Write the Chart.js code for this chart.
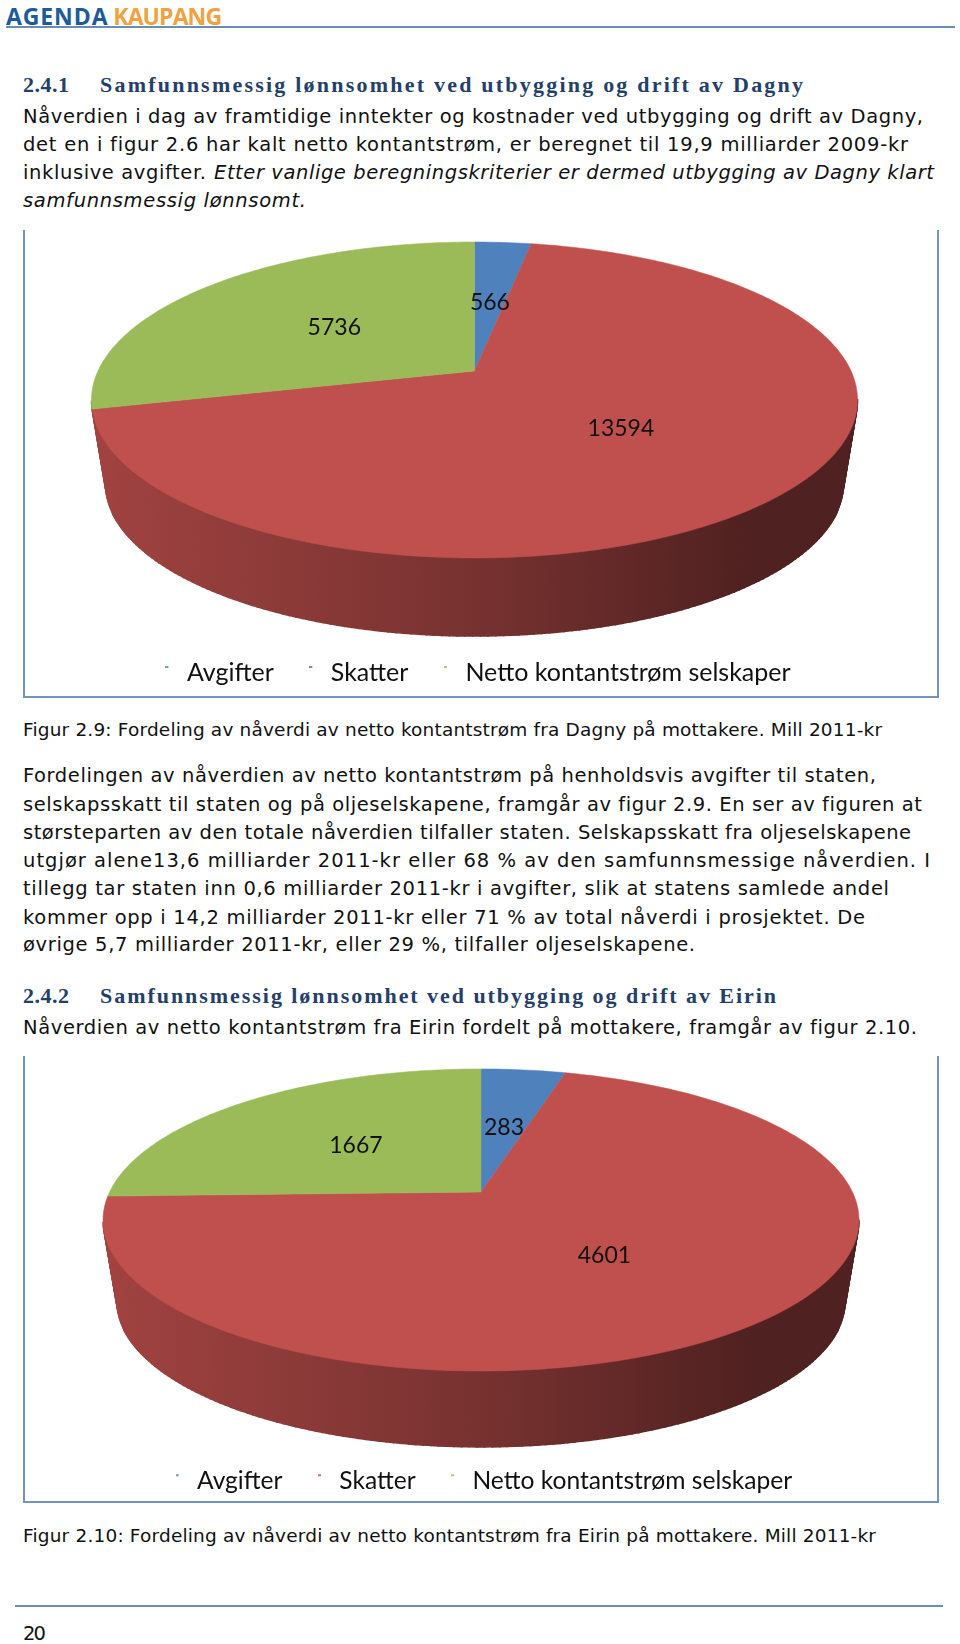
<!DOCTYPE html>
<html lang="no">
<head>
<meta charset="utf-8">
<title>Fordeling av nåverdi</title>
<script src="https://cdn.jsdelivr.net/npm/chart.js@4"></script>
<style>
html,body{margin:0;padding:0;background:#fff;width:960px;height:1644px;overflow:hidden}
.t{position:absolute;white-space:pre;line-height:24px;height:24px;color:#111;font-family:"DejaVu Sans",sans-serif;font-size:19.5px}
.h{font-family:"Liberation Serif",serif;font-weight:700;font-size:22px;color:#24406a}
.c{font-size:18.5px}
.i{font-style:italic}
.box{position:absolute;border-left:2px solid #6f94c4;border-right:2px solid #6f94c4;border-bottom:2px solid #6f94c4;box-sizing:border-box}
.rule{position:absolute;height:2px;background:#6a8db5}
canvas{position:absolute}
.logo{position:absolute;left:6px;top:4px;font:700 23px/24px "Open Sans",sans-serif;white-space:pre;color:#1d5c99;letter-spacing:.9px;word-spacing:-2px}
.logo span{color:#efa23f;letter-spacing:-.9px}
</style>
</head>
<body>
<div class="logo" id="logo">AGENDA <span>KAUPANG</span></div>
<div class="rule" style="left:6px;width:949px;top:26px"></div>
<div class="rule" style="left:15px;width:928px;top:1605px;height:1.5px"></div>
<div class="box" style="left:23px;top:230px;width:916px;height:468px"></div>
<div class="box" style="left:23px;top:1056px;width:916px;height:447px"></div>
<canvas id="c1" width="908" height="465" style="left:24px;top:230px"></canvas>
<canvas id="c2" width="920" height="447" style="left:24px;top:1056px"></canvas>
<script>
const categories = ["Avgifter", "Skatter", "Netto kontantstrøm selskaper"];
const sliceColors = ["#4f81bd", "#c0504d", "#9bbb59"];
const dagnyValues = [566, 13594, 5736];
const eirinValues = [283, 4601, 1667];

// [text, y centre, right end, class, left start]
const textLines = [
 ["2.4.1", 84.5, 69, "h"],
 ["Samfunnsmessig lønnsomhet ved utbygging og drift av Dagny", 84.5, 803, "h", 100],
 ["Nåverdien i dag av framtidige inntekter og kostnader ved utbygging og drift av Dagny,", 116.5, 923, ""],
 ["det en i figur 2.6 har kalt netto kontantstrøm, er beregnet til 19,9 milliarder 2009-kr", 144.5, 908, ""],
 ["inklusive avgifter.", 172.5, 206, ""],
 ["Etter vanlige beregningskriterier er dermed utbygging av Dagny klart", 172.5, 934, "i", 214],
 ["samfunnsmessig lønnsomt.", 200.5, 306, "i"],
 ["Figur 2.9: Fordeling av nåverdi av netto kontantstrøm fra Dagny på mottakere. Mill 2011-kr", 729.5, 882, "c"],
 ["Fordelingen av nåverdien av netto kontantstrøm på henholdsvis avgifter til staten,", 776, 876, ""],
 ["selskapsskatt til staten og på oljeselskapene, framgår av figur 2.9. En ser av figuren at", 804.5, 922, ""],
 ["størsteparten av den totale nåverdien tilfaller staten. Selskapsskatt fra oljeselskapene", 832.5, 911, ""],
 ["utgjør alene13,6 milliarder 2011-kr eller 68 % av den samfunnsmessige nåverdien. I", 861, 930, ""],
 ["tillegg tar staten inn 0,6 milliarder 2011-kr i avgifter, slik at statens samlede andel", 889, 889, ""],
 ["kommer opp i 14,2 milliarder 2011-kr eller 71 % av total nåverdi i prosjektet. De", 917.5, 865, ""],
 ["øvrige 5,7 milliarder 2011-kr, eller 29 %, tilfaller oljeselskapene.", 944.5, 695, ""],
 ["2.4.2", 995.5, 69, "h"],
 ["Samfunnsmessig lønnsomhet ved utbygging og drift av Eirin", 995.5, 776, "h", 100],
 ["Nåverdien av netto kontantstrøm fra Eirin fordelt på mottakere, framgår av figur 2.10.", 1028, 917, ""],
 ["Figur 2.10: Fordeling av nåverdi av netto kontantstrøm fra Eirin på mottakere. Mill 2011-kr", 1535.5, 876, "c"],
 ["20", 1634, 46, ""]
];

textLines.forEach(([txt, y, end, cls, start]) => {
  const d = document.createElement("div");
  d.className = "t " + cls;
  d.textContent = txt;
  const x0 = start || 23;
  d.style.left = x0 + "px";
  d.style.top = (y - 12) + "px";
  document.body.appendChild(d);
  const natural = d.getBoundingClientRect().width;
  d.style.letterSpacing = ((end - x0 - natural) / Math.max(txt.length - 1, 1)).toFixed(3) + "px";
});

function shade(hex, k) {
  const n = parseInt(hex.slice(1), 16);
  return "rgb(" + [(n >> 16) & 255, (n >> 8) & 255, n & 255].map(v => Math.round(v * k)).join(",") + ")";
}

// Tilted-disc projection of the arc elements that Chart.js laid out.
const pie3d = {
  id: "pie3d",
  beforeDatasetsDraw(chart, args, o) {
    const ctx = chart.ctx;
    const arcs = chart.getDatasetMeta(0).data;
    const colors = chart.data.datasets[0].backgroundColor;
    const v0 = arcs[0].getProps(["x", "y", "outerRadius"], true);
    const X = v0.x + o.shiftX, Y = v0.y + o.shiftY, R = v0.outerRadius;
    const A = o.sx * R, B = o.sy * R, P = o.persp;
    const pt = (ang, r, s, dy) => {
      const w = 1 - P * r * Math.sin(ang);
      return [X + s * A * r * Math.cos(ang) / w, Y + dy + s * B * r * Math.sin(ang) / w];
    };
    const left = X - A * 1.02, right = X + A * 1.02;
    [...arcs.keys()].reverse().forEach(i => {
      const p = arcs[i].getProps(["startAngle", "endAngle"], true);
      const g = ctx.createLinearGradient(left, 0, right, 0);
      g.addColorStop(0, shade(colors[i], .84));
      g.addColorStop(.5, shade(colors[i], .62));
      g.addColorStop(.86, shade(colors[i], .41));
      g.addColorStop(1, shade(colors[i], .41));
      ctx.fillStyle = g; ctx.strokeStyle = g; ctx.lineWidth = 1.5;
      const step = Math.PI / 180;
      for (let a = p.startAngle; a < p.endAngle; a += step) {
        const b = Math.min(a + step, p.endAngle);
        if (Math.sin(b) < P) continue;
        const q = [pt(a, 1, 1, 0), pt(b, 1, 1, 0), pt(b, 1, o.wallScale, o.wallDrop), pt(a, 1, o.wallScale, o.wallDrop)];
        ctx.beginPath();
        q.forEach((c, j) => j ? ctx.lineTo(c[0], c[1]) : ctx.moveTo(c[0], c[1]));
        ctx.closePath(); ctx.fill(); ctx.stroke();
      }
    });
    arcs.forEach((el, i) => {
      const p = el.getProps(["startAngle", "endAngle"], true);
      ctx.fillStyle = colors[i]; ctx.strokeStyle = colors[i]; ctx.lineWidth = .5;
      ctx.beginPath();
      ctx.moveTo(X, Y);
      const n = Math.ceil((p.endAngle - p.startAngle) / (Math.PI / 180));
      for (let k = 0; k <= n; k++) {
        const c = pt(p.startAngle + (p.endAngle - p.startAngle) * k / n, 1, 1, 0);
        ctx.lineTo(c[0], c[1]);
      }
      ctx.closePath(); ctx.fill(); ctx.stroke();
    });
    ctx.fillStyle = "#111";
    ctx.font = o.labelFont;
    ctx.textAlign = "center"; ctx.textBaseline = "middle";
    arcs.forEach((el, i) => {
      const p = el.getProps(["startAngle", "endAngle"], true);
      const c = pt((p.startAngle + p.endAngle) / 2, .5, 1, 0);
      ctx.fillText(String(chart.data.datasets[0].data[i]), c[0], c[1] + 1.5);
    });
    return false;
  }
};

function marker(color) {
  const m = document.createElement("canvas");
  m.width = 9; m.height = 21;
  const c = m.getContext("2d");
  c.fillStyle = color; c.globalAlpha = .8;
  c.fillRect(0, 4, 3, 2);
  return m;
}

function makePie(id, values, o, legendPad, fontSize) {
  return new Chart(document.getElementById(id), {
    type: "pie",
    data: { labels: categories, datasets: [{ data: values, backgroundColor: sliceColors, borderWidth: 0 }] },
    plugins: [pie3d],
    options: {
      responsive: false,
      animation: false,
      events: [],
      plugins: {
        tooltip: { enabled: false },
        pie3d: o,
        legend: {
          position: "bottom",
          labels: {
            usePointStyle: true,
            pointStyleWidth: 9,
            padding: legendPad,
            color: "#111",
            font: { family: "Lato, sans-serif", size: fontSize },
            generateLabels(chart) {
              return Chart.overrides.doughnut.plugins.legend.labels.generateLabels(chart)
                .map((it, i) => Object.assign(it, { pointStyle: marker(sliceColors[i]) }));
            }
          }
        }
      }
    }
  });
}

makePie("c1", dagnyValues, { sx: 1.909, sy: .774, persp: .1835, shiftX: -3.5, shiftY: -56.25, wallScale: .963, wallDrop: 85, labelFont: "23px Lato, sans-serif" }, 35.5, 25);
makePie("c2", eirinValues, { sx: 1.971, sy: .774, persp: .1854, shiftX: -3, shiftY: -52.45, wallScale: .963, wallDrop: 82.5, labelFont: "23px Lato, sans-serif" }, 35.5, 24.6);
</script>
</body>
</html>
